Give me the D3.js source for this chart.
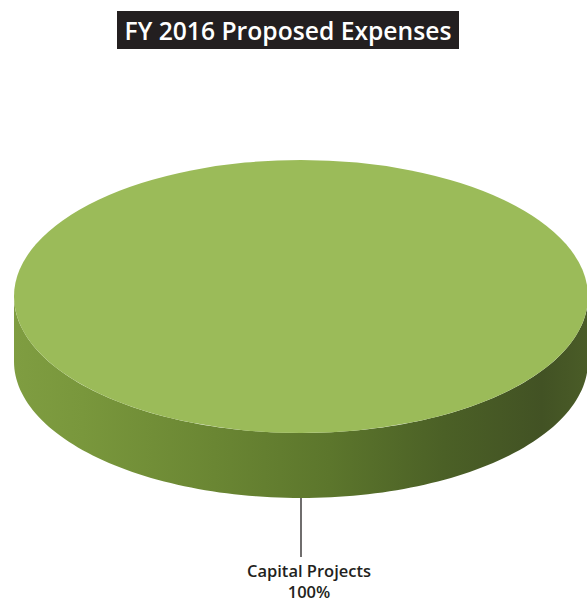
<!DOCTYPE html>
<html>
<head>
<meta charset="utf-8">
<script src="https://cdn.jsdelivr.net/npm/d3@7"></script>
<style>
  html, body { margin: 0; padding: 0; background: #ffffff; }
  svg { display: block; }
</style>
</head>
<body>
<div id="chart"></div>
<script>
// Expense categories and their share of the proposed budget
const categories = ["Capital Projects"];
const values = [100];
const labels = ["100%"];
const title = "FY 2016 Proposed Expenses";

const W = 587, H = 604;
const cx = 301, cy = 296.5, rx = 287, ry = 136.5, depth = 65;

const svg = d3.select("#chart").append("svg")
  .attr("width", W).attr("height", H);

const defs = svg.append("defs");
const sideGrad = defs.append("linearGradient")
  .attr("id", "sideGrad")
  .attr("gradientUnits", "userSpaceOnUse")
  .attr("x1", cx - rx).attr("x2", cx + rx).attr("y1", 0).attr("y2", 0);
[[0, "#7f9d41"], [0.12, "#79973c"], [0.35, "#6a8633"], [0.55, "#5c762c"], [0.75, "#4b6026"], [0.92, "#425224"], [1, "#4a5c27"]]
  .forEach(([o, c]) => sideGrad.append("stop").attr("offset", o).attr("stop-color", c));

// Title
const titleG = svg.append("g");
const titleText = titleG.append("text")
  .attr("x", 288).attr("y", 40)
  .attr("text-anchor", "middle")
  .attr("font-family", "'Open Sans', sans-serif")
  .attr("font-weight", 600)
  .attr("font-size", 22)
  .attr("fill", "#ffffff")
  .text(title);
const tw = titleText.node().getComputedTextLength();
titleText.attr("font-size", 22 * 327 / tw);
titleG.insert("rect", "text")
  .attr("x", 117).attr("y", 11).attr("width", 342).attr("height", 38)
  .attr("fill", "#231f20");

// Pie layout
const pie = d3.pie().sort(null).value(d => d)(values);
const colors = d3.scaleOrdinal().domain(categories).range(["#9bbb59"]);

const px = a => cx + rx * Math.sin(a);
const py = a => cy - ry * Math.cos(a);

// Side wall for the front-facing part of each slice
function sidePath(d) {
  const a0 = Math.max(d.startAngle, Math.PI / 2);
  const a1 = Math.min(d.endAngle, 3 * Math.PI / 2);
  if (a1 <= a0) return null;
  const n = 120;
  const top = d3.range(n + 1).map(i => a0 + (a1 - a0) * i / n);
  const pts = top.map(a => [px(a), py(a)])
    .concat(top.slice().reverse().map(a => [px(a), py(a) + depth]));
  return d3.line()(pts) + "Z";
}

const slices = svg.append("g");
slices.selectAll("path.side").data(pie).join("path")
  .attr("class", "side")
  .attr("d", sidePath)
  .attr("fill", "url(#sideGrad)");

const arc = d3.arc().innerRadius(0).outerRadius(rx);
slices.selectAll("path.top").data(pie).join("path")
  .attr("class", "top")
  .attr("transform", `translate(${cx},${cy}) scale(1,${ry / rx})`)
  .attr("d", arc)
  .attr("fill", (d, i) => colors(categories[i]));

// Leader line and two-line label at each slice's mid angle
const lbl = svg.append("g");
pie.forEach((d, i) => {
  const mid = (d.startAngle + d.endAngle) / 2;
  const x0 = px(mid), y0 = py(mid) + depth;
  lbl.append("line")
    .attr("x1", x0).attr("x2", x0)
    .attr("y1", y0).attr("y2", y0 + 59)
    .attr("stroke", "#231f20").attr("stroke-width", 1.3);
  [categories[i], labels[i]].forEach((s, k) => {
    lbl.append("text")
      .attr("x", x0 + 8).attr("y", y0 + 79 + k * 21)
      .attr("text-anchor", "middle")
      .attr("font-family", "'Open Sans', sans-serif")
      .attr("font-weight", 600)
      .attr("font-size", 16.5)
      .attr("fill", "#231f20")
      .text(s);
  });
});
</script>
</body>
</html>
